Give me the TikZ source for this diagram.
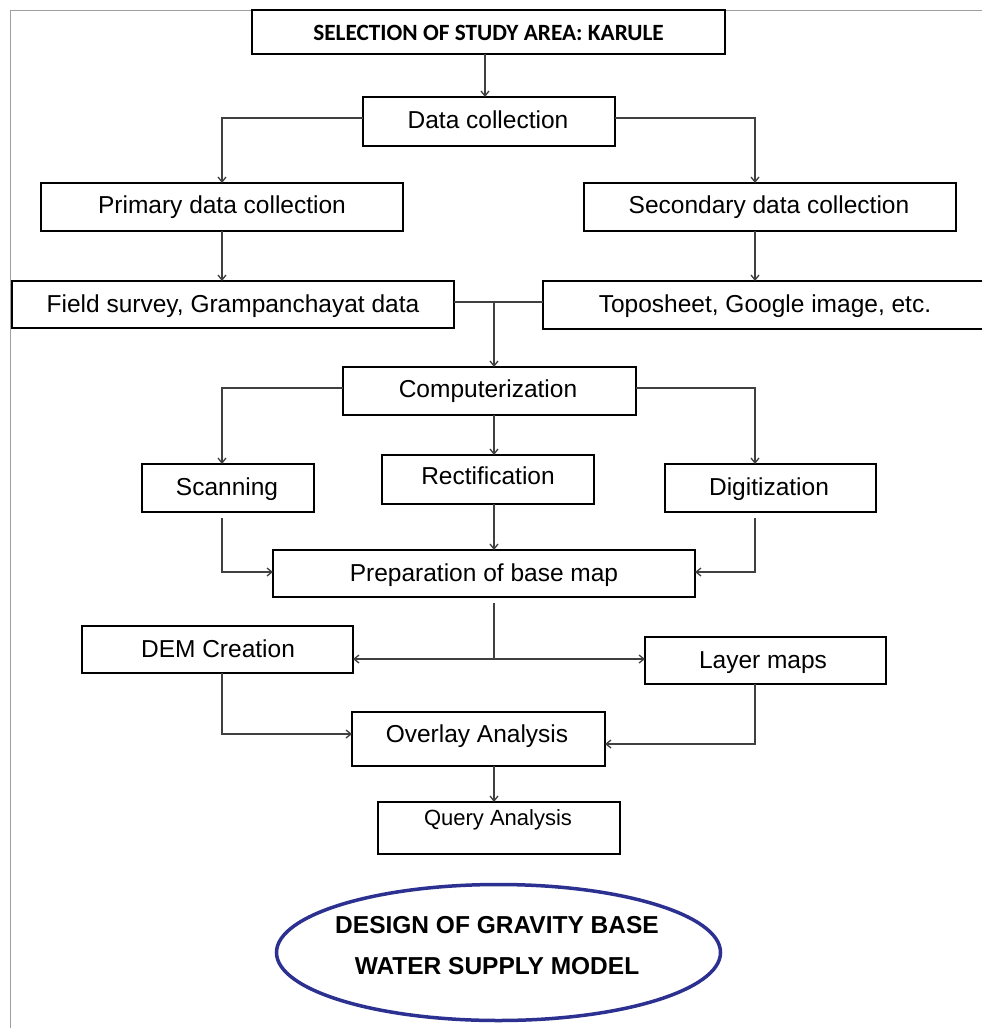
\documentclass[tikz,border=0pt]{standalone}
\usepackage{fontspec}
\setmainfont{Liberation Sans}
\newfontfamily\titlefont{Carlito}
\usetikzlibrary{arrows.meta,shapes.geometric,calc}
\definecolor{navyell}{HTML}{2C3090}
\definecolor{conn}{HTML}{404040}
\newcommand\boxnode[8]{%
  \node[boxst, minimum width={#4-#2}, minimum height={#5-#3}] (#1) at ({(#2+#4)/2},{(#3+#5)/2}) {};
  \node[txt] (#1t) at (#6,#7) {#8};}
\begin{document}
\begin{tikzpicture}[x=1pt,y=-1pt,
  boxst/.style={draw=black, line width=1.6pt, rectangle, inner sep=0pt, outer sep=0pt},
  txt/.style={inner sep=0pt, anchor=base, font=\fontsize{24.5}{29}\selectfont},
  conline/.style={draw=conn, line width=1.5pt},
  arr/.style={conline, -{Straight Barb[length=5pt,width=8pt,line width=1.3pt]}}]
\useasboundingbox (0,0) rectangle (982,1028);
\fill[white] (0,0) rectangle (982,1028);
% frame
\draw[gray!75, line width=1pt] (984,10) -- (10,10) -- (10,1030);
% columns and levels
\coordinate (cT) at (485,0);
\coordinate (cL) at (222,0);
\coordinate (cM) at (494,0);
\coordinate (cR) at (755,0);
\coordinate (yDC) at (0,118);
\coordinate (yFS) at (0,302);
\coordinate (yC) at (0,388);
\coordinate (yP) at (0,572);
\coordinate (yJ) at (0,659);
\coordinate (yO1) at (0,734);
\coordinate (yO2) at (0,744);
% boxes
\node[boxst, minimum width=473, minimum height=44] (sel) at (488.5,32) {};
\node[inner sep=0pt, anchor=base, font=\titlefont\bfseries\fontsize{23.3}{28}\selectfont] (selt) at (488.5,40) {SELECTION OF STUDY AREA: KARULE};
\boxnode{dc}{363}{97}{615}{146}{488}{128}{Data collection}
\boxnode{pri}{41}{183}{403}{231}{222}{213}{Primary data collection}
\boxnode{sec}{584}{183}{956}{231}{769}{213}{Secondary data collection}
\boxnode{fs}{12}{281}{454}{328}{233}{312.5}{Field survey, Grampanchayat data}
\boxnode{topo}{543}{281}{990}{329}{765}{312}{Toposheet, Google image, etc.}
\boxnode{comp}{343}{367}{636}{415}{488}{397}{Computerization}
\boxnode{scan}{142}{464}{314}{512}{227}{495}{Scanning}
\boxnode{rect}{382}{455}{594}{504}{488}{484}{Rectification}
\boxnode{dig}{665}{464}{876}{512}{769}{495}{Digitization}
\boxnode{prep}{273}{550}{695}{597}{484}{581}{Preparation of base map}
\boxnode{dem}{82}{626}{353}{673}{218}{657}{DEM Creation}
\boxnode{layer}{645}{637}{886}{684}{763}{668}{Layer maps}
\boxnode{ov}{352}{712}{605}{766}{477}{742}{Overlay Analysis}
\node[boxst, minimum width=242, minimum height=52] (qa) at (499,828) {};
\node[inner sep=0pt, anchor=base, font=\fontsize{22}{26}\selectfont] (qat) at (498,825) {Query Analysis};
% ellipse
\node[draw=navyell, line width=3.5pt, ellipse, inner sep=0pt, minimum width=444, minimum height=136] (ell) at (498.5,952.5) {};
\node[inner sep=0pt, anchor=base, font=\bfseries\fontsize{24.5}{29}\selectfont] (ell1) at (497,933) {DESIGN OF GRAVITY BASE};
\node[inner sep=0pt, anchor=base, font=\bfseries\fontsize{24.5}{29}\selectfont] (ell2) at (497,974) {WATER SUPPLY MODEL};
% connectors
\draw[arr] (sel.south -| cT) -- (dc.north -| cT);
\draw[arr] (dc.west |- yDC) -| (pri.north -| cL);
\draw[arr] (dc.east |- yDC) -| (sec.north -| cR);
\draw[arr] (pri.south -| cL) -- (fs.north -| cL);
\draw[arr] (sec.south -| cR) -- (topo.north -| cR);
\draw[conline] (fs.east |- yFS) -- (topo.west |- yFS);
\draw[arr] (yFS -| cM) -- (comp.north -| cM);
\draw[arr] (comp.west |- yC) -| (scan.north -| cL);
\draw[arr] (comp.south -| cM) -- (rect.north -| cM);
\draw[arr] (comp.east |- yC) -| (dig.north -| cR);
\draw[arr, shorten <=6pt] (scan.south -| cL) |- (prep.west |- yP);
\draw[arr] (rect.south -| cM) -- (prep.north -| cM);
\draw[arr, shorten <=6pt] (dig.south -| cR) |- (prep.east |- yP);
\draw[conline, shorten <=6pt] (prep.south -| cM) -- (yJ -| cM);
\draw[arr] (yJ -| cM) -- (dem.east |- yJ);
\draw[arr] (yJ -| cM) -- (layer.west |- yJ);
\draw[arr] (dem.south -| cL) |- (ov.west |- yO1);
\draw[arr] (layer.south -| cR) |- (ov.east |- yO2);
\draw[arr] (ov.south -| cM) -- (qa.north -| cM);
\end{tikzpicture}
\end{document}
